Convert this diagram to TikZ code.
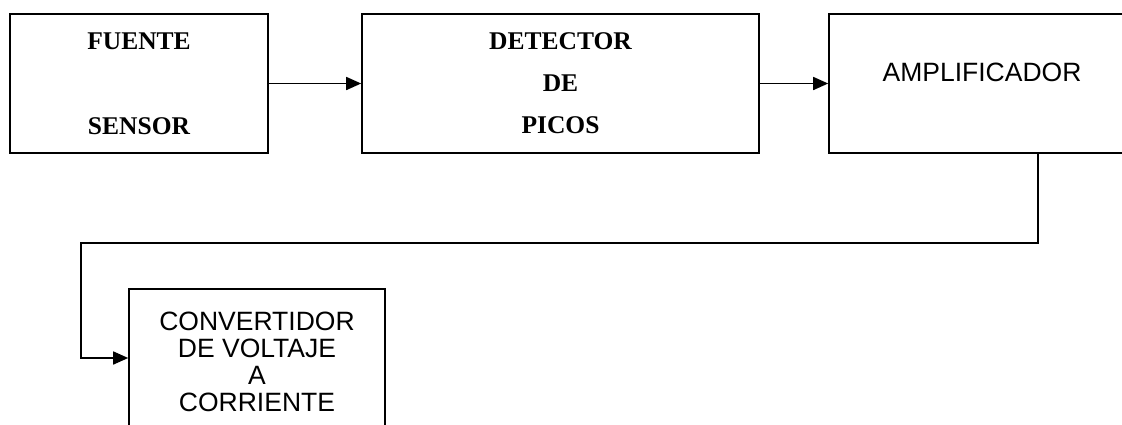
\documentclass[tikz,border=0pt]{standalone}
\usepackage{fontspec}
\newfontfamily\serifb{Liberation Serif}
\newfontfamily\sansr{Liberation Sans}
\usetikzlibrary{arrows.meta}
\begin{document}
\begin{tikzpicture}[x=1pt,y=-1pt,
  blk/.style={draw=black,line width=1.6pt,rectangle,inner sep=0pt,align=center},
  sertext/.style={font={\serifb\bfseries\fontsize{25.5}{30}\selectfont}},
  santext/.style={font={\sansr\fontsize{26.5}{27}\selectfont}},
  conn/.style={draw=black,line width=1.6pt,-{Triangle[length=15pt,width=13pt]}}]
\useasboundingbox (0,0) rectangle (1122,424);
\fill[white] (0,0) rectangle (1122,424);
\node[blk,sertext,minimum width=258pt,minimum height=139pt] (fuente) at (139,83.5) {FUENTE\\[55pt]SENSOR};
\node[blk,sertext,minimum width=397pt,minimum height=139pt] (detector) at (560.5,83.5) {DETECTOR\\[12pt]DE\\[12pt]PICOS};
\node[blk,minimum width=306pt,minimum height=139pt] (amp) at (982,83.5) {};
\node[santext,inner sep=0pt] (amptxt) at ([yshift=11pt]amp.center) {AMPLIFICADOR};
\node[blk,santext,minimum width=256pt,minimum height=146pt] (conv) at (257,362) {CONVERTIDOR\\DE VOLTAJE\\A\\CORRIENTE};
\coordinate (bend) at (81,243);
\draw[conn] (fuente.east) -- (detector.west);
\draw[conn] (detector.east) -- (amp.west);
\draw[conn] ([xshift=56pt]amp.south) |- (bend) |- ([yshift=4pt]conv.west);
\end{tikzpicture}
\end{document}
